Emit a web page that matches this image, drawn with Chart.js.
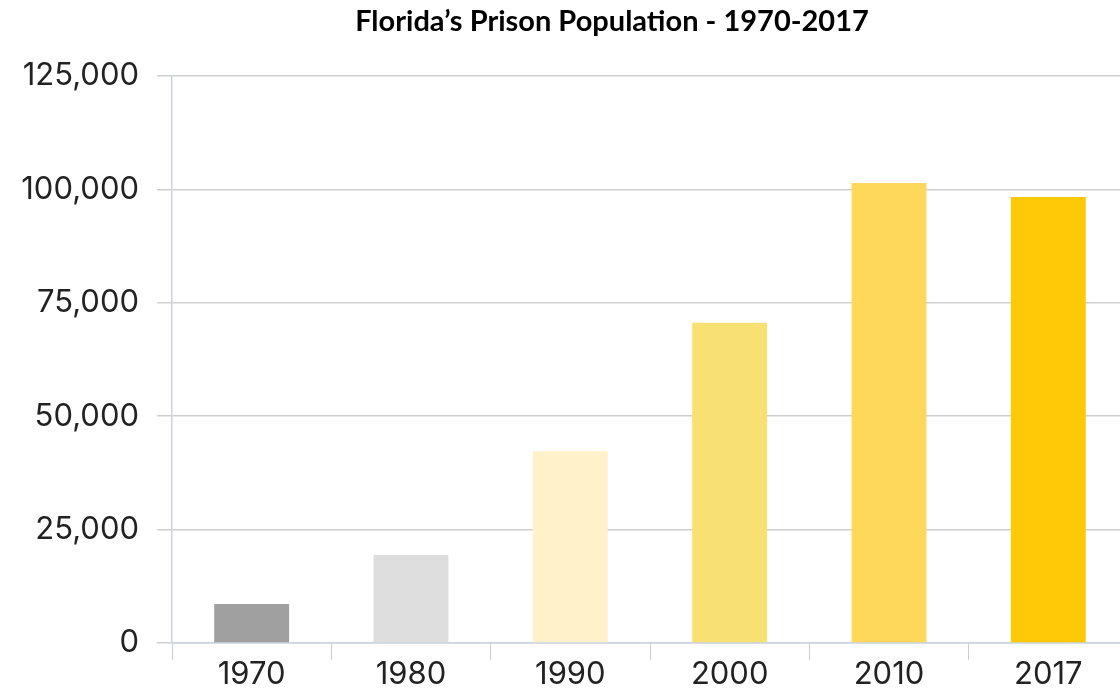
<!DOCTYPE html>
<html>
<head>
<meta charset="utf-8">
<script src="https://cdn.jsdelivr.net/npm/chart.js@4"></script>
<style>
  html, body { margin: 0; padding: 0; background: #fff; overflow: hidden; }
  #wrap { position: relative; width: 1120px; height: 689px; overflow: hidden; }
  #title {
    position: absolute; left: 0; width: 1224px; top: 2px; text-align: center;
    font-family: Lato, "Open Sans", sans-serif; font-weight: bold; font-size: 29px; color: #000;
  }
  #chart { position: absolute; left: 0; top: 0; }
</style>
</head>
<body>
<div id="wrap">
  <canvas id="chart" width="1128" height="689"></canvas>
  <div id="title">Florida’s Prison Population - 1970-2017</div>
</div>
<script>
// years on the x axis
const years = ['1970', '1980', '1990', '2000', '2010', '2017'];
// prison population
const population = [8600, 19400, 42300, 70600, 101400, 98300];
const barColors = ['#a0a0a0', '#dedede', '#fff1c9', '#f8e072', '#fdd85b', '#ffc908'];
const yTicks = [0, 25000, 50000, 75000, 100000, 125000];

const tickFont = { family: 'Inter, Roboto, sans-serif', size: 31, weight: '400' };

const ctx = document.getElementById('chart').getContext('2d');
new Chart(ctx, {
    type: 'bar',
    data: {
        labels: years,
        datasets: [{
            data: population,
            backgroundColor: barColors,
            borderWidth: 0,
            categoryPercentage: 1,
            barPercentage: 0.47
        }]
    },
    options: {
        responsive: false,
        animation: false,
        layout: { padding: { top: 76, right: 0, left: 0, bottom: 0 } },
        plugins: {
            legend: { display: false },
            tooltip: { enabled: false }
        },
        scales: {
            x: {
                grid: { drawOnChartArea: false, drawTicks: true, tickLength: 17, offset: true, color: '#c8cdd6' },
                border: { color: '#c9d3e3', width: 1.5 },
                ticks: { color: '#222', font: tickFont, padding: -4 },
                afterFit: s => { s.height = 46; }
            },
            y: {
                min: 0,
                max: 125000,
                afterBuildTicks: s => { s.ticks = yTicks.map(v => ({ value: v })); },
                grid: { color: '#cfcfcf', lineWidth: 1.5, tickLength: 15 },
                border: { color: '#c9d3e3', width: 1.5 },
                ticks: {
                    color: '#222',
                    font: tickFont,
                    padding: 18,
                    callback: v => v.toLocaleString('en-US')
                },
                afterFit: s => { s.width = 172; }
            }
        }
    }
});
</script>
</body>
</html>
